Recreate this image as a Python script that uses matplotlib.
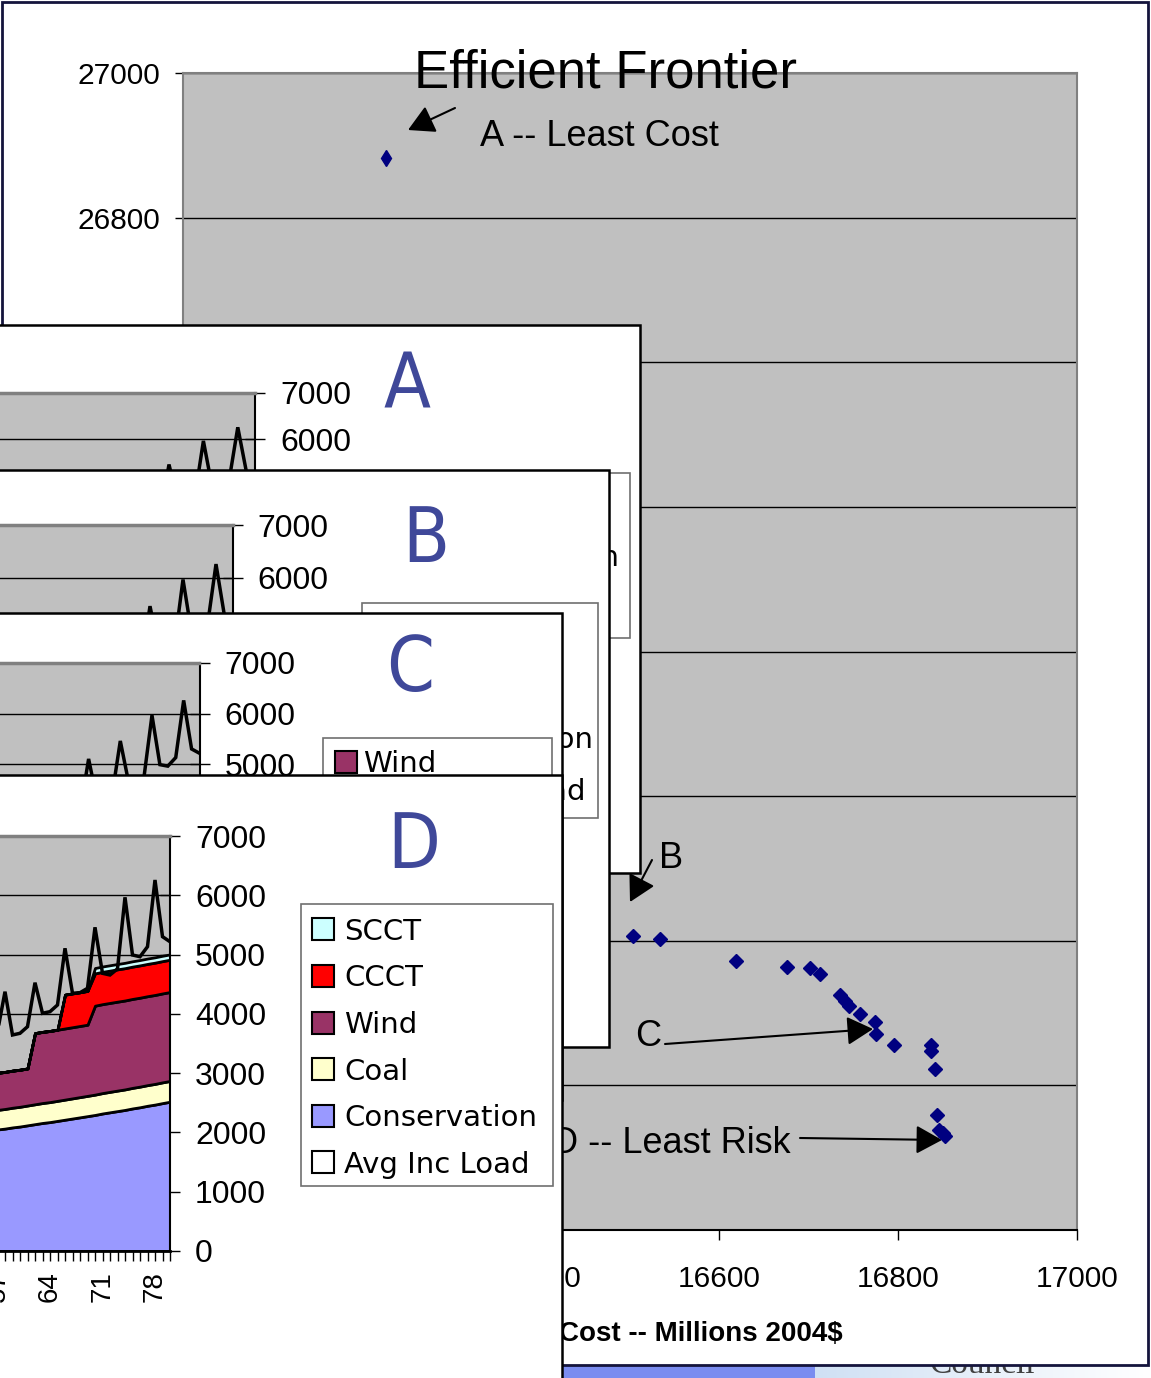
import numpy as np
import matplotlib
matplotlib.use("Agg")
import matplotlib.pyplot as plt
from matplotlib.patches import Rectangle
from matplotlib.colors import LinearSegmentedColormap
from matplotlib import font_manager

W, H = 1151, 1378
plt.rcParams["font.family"] = ["Liberation Sans", "DejaVu Sans"]


def narrow_font():
    """A condensed sans face for the big portfolio letters, if one is installed."""
    fonts = font_manager.fontManager.ttflist
    for f in fonts:
        if f.name == "Liberation Sans Narrow":
            return {"family": "Liberation Sans Narrow"}
    for f in fonts:
        if f.name == "DejaVu Sans" and str(f.stretch) in ("condensed", "semi-condensed"):
            return {"family": "DejaVu Sans", "stretch": "condensed"}
    return {"family": "Liberation Sans"}


NARROW = narrow_font()

# ---------------- Efficient frontier: cost vs. risk ----------------
cost = [16503, 16533, 16619, 16676, 16701, 16712, 16735, 16741, 16745, 16757,
        16774, 16775, 16795, 16837, 16837, 16841, 16843, 16846, 16850, 16852]
risk = [25806, 25803, 25772, 25764, 25763, 25754, 25725, 25716, 25710, 25699,
        25687, 25671, 25656, 25656, 25647, 25623, 25559, 25538, 25534, 25530]
least_cost_point = [16227, 26882]
cost_ticks = [16000, 16200, 16400, 16600, 16800, 17000]
risk_ticks = [25400, 25600, 25800, 26000, 26200, 26400, 26600, 26800, 27000]

# ---------------- Portfolio build-out by quarter (MW) ----------------
quarters = list(range(56, 81))
conservation = [2030, 2050, 2065, 2085, 2100, 2120, 2140, 2160, 2175, 2195,
                2215, 2235, 2255, 2275, 2295, 2320, 2340, 2360, 2380, 2405,
                2425, 2450, 2470, 2495, 2518]
coal = [330, 330, 331, 332, 333, 334, 335, 336, 337, 338,
        339, 340, 341, 342, 343, 344, 345, 346, 346, 347,
        348, 348, 349, 350, 350]
wind = [625, 625, 625, 625, 625, 625, 1200, 1200, 1200, 1200,
        1200, 1200, 1200, 1200, 1500, 1500, 1500, 1500, 1500, 1500,
        1500, 1500, 1500, 1500, 1500]
ccct = [0, 0, 0, 0, 0, 0, 0, 0, 0, 0,
        570, 570, 570, 570, 545, 545, 545, 545, 545, 545,
        545, 545, 545, 545, 545]
scct = [0, 0, 0, 0, 0, 0, 0, 0, 0, 0,
        0, 0, 0, 0, 90, 90, 90, 90, 90, 90,
        90, 90, 90, 90, 90]
avg_inc_load = [3600, 3700, 4374, 3644, 3672, 3784, 4526, 4010, 4037, 4150,
                5106, 4347, 4357, 4431, 5460, 4684, 4656, 4760, 5966, 4993,
                4964, 5133, 6258, 5302, 5217]
mw_ticks = [0, 1000, 2000, 3000, 4000, 5000, 6000, 7000]

series_names = ["SCCT", "CCCT", "Wind", "Coal", "Conservation", "Avg Inc Load"]
series_colors = {"SCCT": "#CCFFFF", "CCCT": "#FF0000", "Wind": "#993366",
                 "Coal": "#FFFFCC", "Conservation": "#9999FF", "Avg Inc Load": "#FFFFFF"}

LETTER_COLOR = "#3F4899"
GRAY = "#C0C0C0"


def rect(x0, y0, x1, y1):
    """Axes rectangle from pixel box (top-left origin)."""
    return [x0 / W, 1 - y1 / H, (x1 - x0) / W, (y1 - y0) / H]


def fpt(x, y):
    """Figure-fraction point from pixel position (top-left origin)."""
    return (x / W, 1 - y / H)


fig = plt.figure(figsize=(W / 100, H / 100), dpi=100)

# ---------------- slide background and chart frame ----------------
bg = fig.add_axes([0, 0, 1, 1])
grad = np.linspace(0, 1, 256)[None, :]
bg.imshow(grad, extent=(815, W, H, 1360), aspect="auto",
          cmap=LinearSegmentedColormap.from_list("strip", ["#CFE0F4", "#FFFFFF"]))
bg.add_patch(Rectangle((562, 1360), 253, 20, fc="#7A8CF0", ec="none"))
bg.text(930, 1373, "Council", family=["Liberation Serif", "DejaVu Serif"],
        fontsize=24, color="#404040", va="baseline")
bg.add_patch(Rectangle((2, 2), 1146, 1363, fc="white", ec="#14143C", lw=2, zorder=5))
bg.set_xlim(0, W)
bg.set_ylim(H, 0)
bg.set_axis_off()

# ---------------- efficient frontier scatter ----------------
ax = fig.add_axes(rect(183, 73, 1077, 1230))
ax.set_facecolor(GRAY)
ax.set_xlim(16000, 17000)
ax.set_ylim(25400, 27000)
ax.set_xticks(cost_ticks)
ax.set_xticklabels([str(t) for t in cost_ticks])
ax.set_yticks(risk_ticks)
ax.set_yticklabels([str(t) for t in risk_ticks])
ax.set_axisbelow(True)
ax.yaxis.grid(True, color="black", lw=1)
ax.tick_params(axis="y", direction="out", length=5.8, width=1, pad=10.8, labelsize=21.5)
ax.tick_params(axis="x", direction="out", length=7.2, width=1, pad=18, labelsize=21.5)
for side in ("left", "top", "right"):
    ax.spines[side].set_color("#808080")
    ax.spines[side].set_linewidth(1.5)
ax.spines["bottom"].set_color("black")
ax.spines["bottom"].set_linewidth(1.5)

ax.plot(cost, risk, ls="none", marker="D", ms=7.5, color="#000080", zorder=4)
ax.plot([least_cost_point[0]], [least_cost_point[1]], ls="none", marker="d", ms=8.5,
        color="#000080", zorder=4)

ax.text(*fpt(605, 87), "Efficient Frontier", transform=fig.transFigure,
        ha="center", va="baseline", fontsize=38)
ax.text(*fpt(843, 1341), "Cost -- Millions 2004$", transform=fig.transFigure,
        ha="right", va="baseline", fontsize=20, fontweight="bold")

arrow_kw = dict(arrowstyle="-|>,head_length=0.4,head_width=0.22", mutation_scale=40,
                color="black", lw=1.5, shrinkA=0, shrinkB=0)


def pointer(tail, head):
    ax.annotate("", xy=fpt(*head), xytext=fpt(*tail), xycoords="figure fraction",
                textcoords="figure fraction", arrowprops=arrow_kw)


ax.text(*fpt(480, 146), "A -- Least Cost", transform=fig.transFigure,
        ha="left", va="baseline", fontsize=26)
pointer((455, 108), (408, 130))
ax.text(*fpt(659, 868), "B", transform=fig.transFigure, ha="left", va="baseline", fontsize=26)
pointer((652, 860), (630, 902))
ax.text(*fpt(635, 1046), "C", transform=fig.transFigure, ha="left", va="baseline", fontsize=26)
pointer((665, 1044), (873, 1029))
ax.text(*fpt(791, 1153), "D -- Least Risk", transform=fig.transFigure,
        ha="right", va="baseline", fontsize=26)
pointer((800, 1138), (942, 1140))


# ---------------- portfolio panels ----------------
def panel_frame(x1, y0, y1, letter, letter_pos, legend_box, legend_names,
                first_y, step, patch_x, text_x):
    fax = fig.add_axes(rect(-40, y0, x1, y1))
    fax.set_xlim(-40, x1)
    fax.set_ylim(y1, y0)
    fax.set_axis_off()
    fax.add_patch(Rectangle((-40, y0), x1 + 40, y1 - y0, fc="white", ec="black",
                            lw=1.8, clip_on=False))
    fax.text(letter_pos[0], letter_pos[1], letter, fontsize=55,
             color=LETTER_COLOR, ha="center", va="baseline", **NARROW)
    bx0, by0, bx1, by1 = legend_box
    fax.add_patch(Rectangle((bx0, by0), bx1 - bx0, by1 - by0, fc="white",
                            ec="#707070", lw=1.2, clip_on=False))
    for i, name in enumerate(legend_names):
        yc = first_y + i * step
        fax.add_patch(Rectangle((patch_x, yc - 11), 22, 22, fc=series_colors[name],
                                ec="black", lw=1.5, clip_on=False))
        fax.text(text_x, yc + 10.5, name, family="DejaVu Sans", fontsize=21,
                 va="baseline", ha="left")
    return fax


def panel_plot(x_right, px_per_quarter, y_top, y_zero, with_stack=False):
    x_left = x_right - 79 * px_per_quarter
    pax = fig.add_axes(rect(x_left, y_top, x_right, y_zero))
    pax.set_facecolor(GRAY)
    pax.set_xlim(1, 80)
    pax.set_ylim(0, 7000)
    pax.set_axisbelow(True)
    pax.yaxis.grid(True, color="black", lw=1)
    pax.yaxis.tick_right()
    pax.set_yticks(mw_ticks)
    pax.set_yticklabels([str(t) for t in mw_ticks])
    pax.tick_params(axis="y", direction="inout", length=14.4, width=1, pad=10.8,
                    labelsize=23, right=True, left=False)
    pax.spines["top"].set_color("#808080")
    pax.spines["top"].set_linewidth(2.5)
    pax.spines["right"].set_color("black")
    pax.spines["right"].set_linewidth(1.5)
    pax.spines["bottom"].set_color("black")
    pax.spines["bottom"].set_linewidth(2)
    if with_stack:
        order = ["Conservation", "Coal", "Wind", "CCCT", "SCCT"]
        pax.stackplot(quarters, conservation, coal, wind, ccct, scct,
                      colors=[series_colors[n] for n in order],
                      edgecolor="black", linewidth=2, zorder=2)
        labelled = [q for q in range(1, 81) if (q - 1) % 7 == 0]
        pax.set_xticks(labelled)
        pax.set_xticklabels([str(q) for q in labelled], rotation=90, fontsize=20)
        pax.set_xticks(list(range(1, 81)), minor=True)
        pax.tick_params(axis="x", which="both", direction="out", length=7.2,
                        width=1, pad=7)
    else:
        pax.set_xticks([])
    pax.plot(quarters, avg_inc_load, color="black", lw=2.5, zorder=3,
             solid_joinstyle="miter")
    return pax


# Portfolio A
panel_frame(640, 325, 873, "A", (407, 408), (386, 473, 630, 638),
            ["Coal", "Conservation", "Avg Inc Load"], 503, 52, 396, 426)
panel_plot(255, 8.6, 392.7, 719.0)

# Portfolio B
panel_frame(609, 470, 1047, "B", (426, 562), (362, 603, 598, 818),
            ["Wind", "Coal", "Conservation", "Avg Inc Load"], 633, 52, 372, 400)
panel_plot(232.5, 8.25, 525.0, 893.9)

# Portfolio C
panel_frame(562, 613, 1100, "C", (410, 691), (323, 738, 552, 980),
            ["Wind", "Coal", "Conservation", "Avg Inc Load"], 762, 52, 335, 363)
panel_plot(199.5, 7.92, 662.7, 1018.3)

# Portfolio D
panel_frame(562, 775, 1420, "D", (414, 868), (301, 904, 553, 1186),
            series_names, 929.3, 46.6, 312, 344)
panel_plot(170, 7.5, 836, 1251, with_stack=True)

fig.savefig("out.png", dpi=100)
